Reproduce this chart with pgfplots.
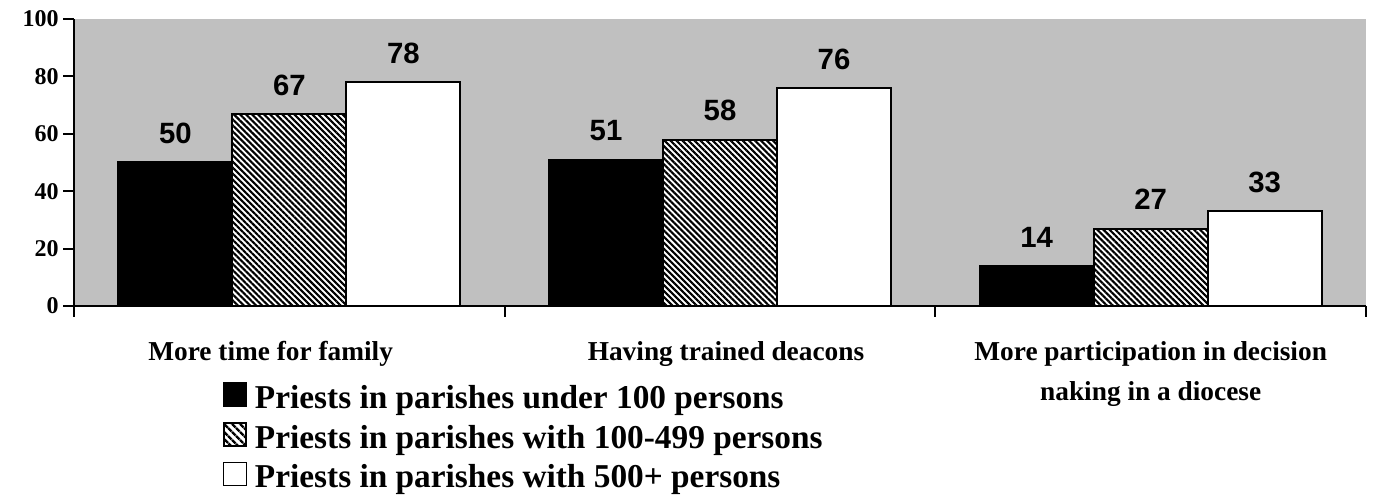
\documentclass[border=0pt]{standalone}
\usepackage{fontspec}
\setmainfont{Liberation Serif}
\newfontfamily\arialfont{Liberation Sans}
\usepackage{pgfplots}
\pgfplotsset{compat=1.18}
\usetikzlibrary{patterns.meta}
\definecolor{bggray}{HTML}{C0C0C0}

\begin{document}
\begin{tikzpicture}
\begin{axis}[
  name=ax, at={(0pt,0pt)}, anchor=south west,
  scale only axis, width=969pt, height=215.25pt,
  xmin=-0.5, xmax=2.5, ymin=0, ymax=100,
  axis x line=bottom, axis y line=left,
  axis line style={-, line width=1.5pt},
  axis background/.style={fill=bggray},
  ybar=0pt, bar width=85.5pt,
  ytick={0,20,...,100},
  xtick={-0.5,0.5,1.5,2.5},
  xticklabels={{\hspace*{-28pt}More time for family}, {\hspace*{9pt}Having trained deacons}, {More participation in decision\\naking in a diocese}},
  x tick label as interval,
  tick align=outside, major tick length=8pt,
  tick style={line width=1.5pt, black},
  /pgf/number format/assume math mode=true,
  yticklabel style={font=\fontsize{18}{22}\selectfont\bfseries},
  xticklabel style={font=\fontsize{20.5}{30}\selectfont\bfseries, align=center, yshift=-15pt},
  nodes near coords,
  nodes near coords style={font=\arialfont\fontsize{22}{24}\selectfont\bfseries, anchor=base, yshift=14pt},
  legend style={at={(axis description cs:0.1146,-0.2648)}, anchor=north west,
    draw=none, fill=none, inner sep=0pt, row sep=8.5pt,
    font=\fontsize{25}{28}\selectfont\bfseries,
    nodes={inner sep=0pt},
    /tikz/every odd column/.append style={column sep=5.5pt}},
  legend cell align=left,
]
\addplot[fill=black, draw=black, line width=1.5pt,
  legend image code/.code={\draw[fill=black,draw=black,line width=1.2pt] (0pt,-6.5pt) rectangle (17pt,11pt);}]
  coordinates {(0,50) (1,51) (2,14)};
\addplot[draw=black, line width=1.5pt, preaction={fill=white},
  pattern={Lines[angle=-45,distance=3.2pt,line width=1.6pt]}, pattern color=black,
  legend image code/.code={\draw[draw=black,line width=1.2pt, preaction={fill=white}, pattern={Lines[angle=-45,distance=4pt,line width=2pt]}, pattern color=black] (0pt,-6.5pt) rectangle (17pt,11pt);}]
  coordinates {(0,67) (1,58) (2,27)};
\addplot[fill=white, draw=black, line width=1.5pt,
  legend image code/.code={\draw[fill=white,draw=black,line width=1.2pt] (0pt,-6.5pt) rectangle (17pt,11pt);}]
  coordinates {(0,78) (1,76) (2,33)};
\legend{Priests in parishes under 100 persons, Priests in parishes with 100-499 persons, Priests in parishes with 500+ persons}
\end{axis}
\pgfresetboundingbox
\path[use as bounding box] (-55.5pt,-147pt) rectangle (976.5pt,229.5pt);
\end{tikzpicture}
\end{document}
